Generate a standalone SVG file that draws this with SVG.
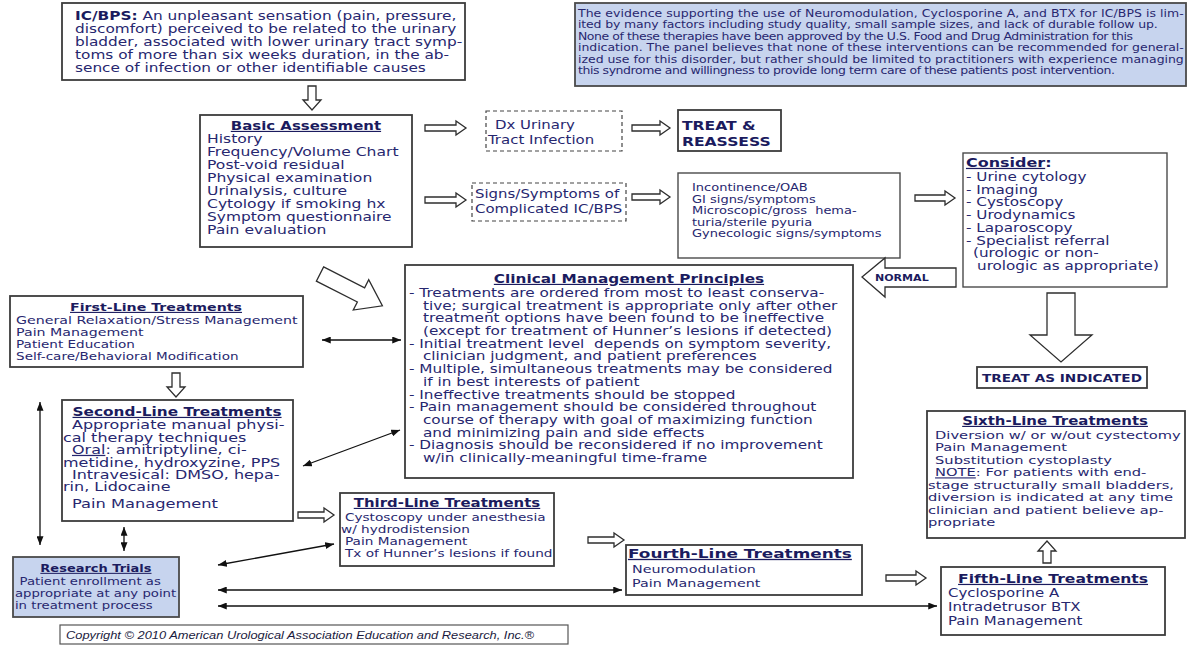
<svg xmlns="http://www.w3.org/2000/svg" width="1189" height="645" viewBox="0 0 1189 645">
<defs>
<style>
text { font-family: "DejaVu Sans", Verdana, sans-serif; fill: #27276f; }
.b { font-weight: bold; fill: #1b1b5e; }
.u { text-decoration: underline; }
.m { text-anchor: middle; }
.box { fill: #fff; stroke: #3c3c3c; stroke-width: 1.8; }
.thin { fill: #fff; stroke: #4a4a4a; stroke-width: 1.4; }
.blue { fill: #c7d4ee; stroke: #4a4a4a; stroke-width: 1.8; }
.dash { fill: #fff; stroke: #444; stroke-width: 1.2; stroke-dasharray: 4 3; }
.hol { fill: #fff; stroke: #2e2e2e; stroke-width: 1.3; }
.dbl { stroke: #111; stroke-width: 1.3; fill: none; marker-start: url(#ah); marker-end: url(#ah); }
.copy { font-family: "Liberation Sans", Arial, sans-serif; font-style: italic; fill: #1b1b3e; }
</style>
<marker id="ah" viewBox="0 0 10 8" refX="10" refY="4" markerWidth="9" markerHeight="7" markerUnits="userSpaceOnUse" orient="auto-start-reverse"><path d="M0,0 L10,4 L0,8 z" fill="#111"/></marker>
</defs>
<rect width="1189" height="645" fill="#fff"/>

<g id="icbps">
<rect class="box" x="62" y="3" width="403" height="77"/>
<g transform="translate(62,0) scale(1.3,1)" font-size="11.8">
<text x="10" y="20"><tspan class="b">IC/BPS:</tspan> An unpleasant sensation (pain, pressure,</text>
<text x="10" y="33">discomfort) perceived to be related to the urinary</text>
<text x="10" y="46">bladder, associated with lower urinary tract symp-</text>
<text x="10" y="59">toms of more than six weeks duration, in the ab-</text>
<text x="10" y="72">sence of infection or other identifiable causes</text>
</g>
</g>

<g id="note">
<rect class="blue" x="575" y="3" width="611" height="83"/>
<g transform="translate(575,0) scale(1.3,1)" font-size="9.6">
<text x="2.3" y="17" textLength="466" lengthAdjust="spacing">The evidence supporting the use of Neuromodulation, Cyclosporine A, and BTX for IC/BPS is lim-</text>
<text x="2.3" y="28.5" textLength="446" lengthAdjust="spacing">ited by many factors including study quality, small sample sizes, and lack of durable follow up.</text>
<text x="2.3" y="40" textLength="427" lengthAdjust="spacing">None of these therapies have been approved by the U.S. Food and Drug Administration for this</text>
<text x="2.3" y="51.5" textLength="466" lengthAdjust="spacing">indication. The panel believes that none of these interventions can be recommended for general-</text>
<text x="2.3" y="63" textLength="466" lengthAdjust="spacing">ized use for this disorder, but rather should be limited to practitioners with experience managing</text>
<text x="2.3" y="74.5" textLength="413" lengthAdjust="spacing">this syndrome and willingness to provide long term care of these patients post intervention.</text>
</g>
</g>

<g id="basic">
<rect class="box" x="200" y="115" width="212" height="132"/>
<g transform="translate(200,0) scale(1.3,1)" font-size="12">
<text class="b u m" x="81.5" y="130" font-size="11.5">Basic Assessment</text>
<text x="5.4" y="143">History</text>
<text x="5.4" y="156">Frequency/Volume Chart</text>
<text x="5.4" y="169">Post-void residual</text>
<text x="5.4" y="182">Physical examination</text>
<text x="5.4" y="195">Urinalysis, culture</text>
<text x="5.4" y="208">Cytology if smoking hx</text>
<text x="5.4" y="221" font-size="13" textLength="142" lengthAdjust="spacingAndGlyphs">Symptom questionnaire</text>
<text x="5.4" y="234">Pain evaluation</text>
</g>
</g>

<g id="dx">
<rect class="dash" x="486" y="111" width="136" height="40"/>
<g transform="translate(486,0) scale(1.3,1)" font-size="11.5">
<text x="6.9" y="129">Dx Urinary</text>
<text x="1.5" y="144">Tract Infection</text>
</g>
</g>

<g id="treat-reassess">
<rect class="box" x="678" y="110" width="103" height="41"/>
<g transform="translate(678,0) scale(1.3,1)" font-size="12">
<text class="b" x="3" y="130">TREAT &amp;</text>
<text class="b" x="3" y="146">REASSESS</text>
</g>
</g>

<g id="signs">
<rect class="dash" x="472" y="183" width="154" height="38"/>
<g transform="translate(472,0) scale(1.3,1)" font-size="11.5">
<text x="2.3" y="198">Signs/Symptoms of</text>
<text x="2.3" y="213">Complicated IC/BPS</text>
</g>
</g>

<g id="incontinence">
<rect class="thin" x="678" y="173" width="222" height="85"/>
<g transform="translate(678,0) scale(1.3,1)" font-size="10">
<text x="10.8" y="191">Incontinence/OAB</text>
<text x="10.8" y="203">GI signs/symptoms</text>
<text x="10.8" y="214" xml:space="preserve">Microscopic/gross  hema-</text>
<text x="10.8" y="226">turia/sterile pyuria</text>
<text x="10.8" y="237">Gynecologic signs/symptoms</text>
</g>
</g>

<g id="consider">
<rect class="thin" x="963" y="153" width="204" height="134"/>
<g transform="translate(963,0) scale(1.3,1)" font-size="11.7">
<text class="b" x="2.3" y="167" font-size="12.3"><tspan class="u">Consider</tspan>:</text>
<text x="2.3" y="181">- Urine cytology</text>
<text x="2.3" y="194">- Imaging</text>
<text x="2.3" y="206">- Cystoscopy</text>
<text x="2.3" y="219">- Urodynamics</text>
<text x="2.3" y="232">- Laparoscopy</text>
<text x="2.3" y="245">- Specialist referral</text>
<text x="7.7" y="257">(urologic or non-</text>
<text x="10.8" y="270">urologic as appropriate)</text>
</g>
</g>

<g id="treat-indicated">
<rect class="box" x="977" y="367" width="170" height="21"/>
<g transform="translate(977,0) scale(1.3,1)" font-size="10.5">
<text class="b m" x="65.4" y="382">TREAT AS INDICATED</text>
</g>
</g>

<g id="normal">
<polygon class="hol" points="956,268 885,268 885,258 862,277 885,297 885,287 956,287"/>
<g transform="translate(875,0) scale(1.3,1)" font-size="8.5">
<text class="b" x="0" y="281">NORMAL</text>
</g>
</g>

<g id="clinical">
<rect class="box" x="405" y="265" width="448" height="213"/>
<g transform="translate(405,0) scale(1.33,1)" font-size="11.5">
<text class="b u m" x="168.4" y="283">Clinical Management Principles</text>
<text x="3" y="297">- Treatments are ordered from most to least conserva-</text>
<text x="13.5" y="309.7">tive; surgical treatment is appropriate only after other</text>
<text x="13.5" y="322.4">treatment options have been found to be ineffective</text>
<text x="13.5" y="335">(except for treatment of Hunner’s lesions if detected)</text>
<text x="3" y="347.8" xml:space="preserve">- Initial treatment level  depends on symptom severity,</text>
<text x="13.5" y="360.5">clinician judgment, and patient preferences</text>
<text x="3" y="373.2">- Multiple, simultaneous treatments may be considered</text>
<text x="13.5" y="386">if in best interests of patient</text>
<text x="3" y="398.6">- Ineffective treatments should be stopped</text>
<text x="3" y="411.3">- Pain management should be considered throughout</text>
<text x="13.5" y="424">course of therapy with goal of maximizing function</text>
<text x="13.5" y="436.7">and minimizing pain and side effects</text>
<text x="3" y="449.4">- Diagnosis should be reconsidered if no improvement</text>
<text x="13.5" y="462">w/in clinically-meaningful time-frame</text>
</g>
</g>

<g id="first-line">
<rect class="box" x="10" y="296" width="293" height="71"/>
<g transform="translate(10,0) scale(1.29,1)" font-size="11">
<text class="b u m" x="113.2" y="311">First-Line Treatments</text>
<text x="4.7" y="324">General Relaxation/Stress Management</text>
<text x="4.7" y="336">Pain Management</text>
<text x="4.7" y="348" font-size="10.5">Patient Education</text>
<text x="4.7" y="360" font-size="10.5">Self-care/Behavioral Modification</text>
</g>
</g>

<g id="second-line">
<rect class="box" x="62" y="400" width="231" height="121"/>
<g transform="translate(62,0) scale(1.3,1)" font-size="12.3">
<text class="b u m" x="88.5" y="416" font-size="11.8">Second-Line Treatments</text>
<text x="7.7" y="429">Appropriate manual physi-</text>
<text x="0.8" y="442">cal therapy techniques</text>
<text x="7.7" y="454"><tspan class="u">Oral</tspan>: amitriptyline, ci-</text>
<text x="0.8" y="467">metidine, hydroxyzine, PPS</text>
<text x="7.7" y="479">Intravesical: DMSO, hepa-</text>
<text x="0.8" y="491">rin, Lidocaine</text>
<text x="7.7" y="508" font-size="12.5">Pain Management</text>
</g>
</g>

<g id="research">
<rect class="blue" x="13" y="557" width="166" height="60"/>
<g transform="translate(13,0) scale(1.3,1)" font-size="10.2">
<text class="b u m" x="63.8" y="572" font-size="10">Research Trials</text>
<text x="5" y="585">Patient enrollment as</text>
<text x="1.5" y="597">appropriate at any point</text>
<text x="1.5" y="609">in treatment process</text>
</g>
</g>

<g id="third-line">
<rect class="box" x="340" y="493" width="214" height="73"/>
<g transform="translate(340,0) scale(1.3,1)" font-size="10.5">
<text class="b u m" x="82.3" y="507" font-size="11.5">Third-Line Treatments</text>
<text x="3.8" y="521">Cystoscopy under anesthesia</text>
<text x="0.8" y="533">w/ hydrodistension</text>
<text x="3.8" y="545">Pain Management</text>
<text x="3.8" y="557">Tx of Hunner’s lesions if found</text>
</g>
</g>

<g id="fourth-line">
<rect class="box" x="626" y="545" width="236" height="50"/>
<g transform="translate(626,0) scale(1.3,1)" font-size="11">
<text class="b u" x="1.5" y="558" font-size="13">Fourth-Line Treatments</text>
<text x="4.6" y="573">Neuromodulation</text>
<text x="4.6" y="587">Pain Management</text>
</g>
</g>

<g id="fifth-line">
<rect class="box" x="941" y="567" width="224" height="68"/>
<g transform="translate(941,0) scale(1.3,1)" font-size="11.5">
<text class="b u m" x="86.2" y="583" font-size="12">Fifth-Line Treatments</text>
<text x="5.4" y="597">Cyclosporine A</text>
<text x="5.4" y="611">Intradetrusor BTX</text>
<text x="5.4" y="625">Pain Management</text>
</g>
</g>

<g id="sixth-line">
<rect class="box" x="927" y="411" width="258" height="127"/>
<g transform="translate(927,0) scale(1.3,1)" font-size="11.3">
<text class="b u m" x="98.5" y="425" font-size="11.5">Sixth-Line Treatments</text>
<text x="6.2" y="439">Diversion w/ or w/out cystectomy</text>
<text x="6.2" y="451.5">Pain Management</text>
<text x="6.2" y="464">Substitution cystoplasty</text>
<text x="6.2" y="476.5"><tspan class="u">NOTE</tspan>: For patients with end-</text>
<text x="0.8" y="489">stage structurally small bladders,</text>
<text x="0.8" y="501.5">diversion is indicated at any time</text>
<text x="0.8" y="514">clinician and patient believe ap-</text>
<text x="0.8" y="526.5">propriate</text>
</g>
</g>

<g id="copyright">
<rect fill="#fff" stroke="#555" stroke-width="1.2" x="60" y="625" width="508" height="19"/>
<text class="copy" x="66" y="639" font-size="11" textLength="468" lengthAdjust="spacingAndGlyphs">Copyright © 2010 American Urological Association Education and Research, Inc.®</text>
</g>

<g id="connectors">
<polygon class="hol" points="308,86 316,86 316,100 321,100 312,110 303,100 308,100"/>
<polygon class="hol" points="425,125 456,125 456,121 466,128 456,135 456,131 425,131"/>
<polygon class="hol" points="425,197 456,197 456,193 466,200 456,207 456,203 425,203"/>
<polygon class="hol" points="632,125 660,125 660,121 670,128 660,135 660,131 632,131"/>
<polygon class="hol" points="632,194 660,194 660,190 670,197 660,204 660,200 632,200"/>
<polygon class="hol" points="915,195 945,195 945,191 955,198 945,205 945,201 915,201"/>
<polygon class="hol" points="1047,293 1075,293 1075,335 1092,335 1061,362 1030,335 1047,335"/>
<polygon class="hol" transform="translate(320,274) rotate(27)" points="0,-8 46,-8 46,-17 70,0 46,17 46,8 0,8"/>
<polygon class="hol" points="172,373 180,373 180,387 185,387 176,397 167,387 172,387"/>
<polygon class="hol" points="298,512 324,512 324,508 334,515 324,522 324,518 298,518"/>
<polygon class="hol" points="588,537 614,537 614,533 624,540 614,547 614,543 588,543"/>
<polygon class="hol" points="886,575 916,575 916,571 926,578 916,585 916,581 886,581"/>
<polygon class="hol" points="1043,563 1051,563 1051,551 1056,551 1047,541 1038,551 1043,551"/>
<line class="dbl" x1="322" y1="340" x2="401" y2="340"/>
<line class="dbl" x1="303" y1="466" x2="400" y2="430"/>
<line class="dbl" x1="40" y1="402" x2="40" y2="545"/>
<line class="dbl" x1="124" y1="527" x2="124" y2="551"/>
<line class="dbl" x1="218" y1="565" x2="334" y2="544"/>
<line class="dbl" x1="218" y1="590" x2="622" y2="590"/>
<line class="dbl" x1="218" y1="606" x2="937" y2="606"/>
</g>
</svg>
